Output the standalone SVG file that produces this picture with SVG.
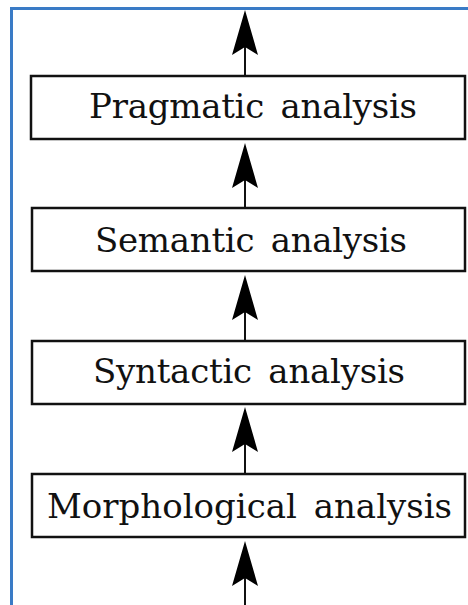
<svg xmlns="http://www.w3.org/2000/svg" width="468" height="605" viewBox="0 0 468 605">
  <style>
    .frame { fill: none; stroke: #3a7bc6; stroke-width: 3; }
    .box { fill: #ffffff; stroke: #111111; stroke-width: 2.5; }
    .label { font-family: "DejaVu Serif", "Liberation Serif", serif; font-size: 34px; fill: #111111; text-anchor: middle; word-spacing: 6px; }
    .shaft { stroke: #111111; stroke-width: 2; fill: none; }
    .head { fill: #000000; }
  </style>
  <defs>
    <!-- barbed arrowhead, tip at origin pointing up -->
    <path id="arrowhead" class="head" d="M0,0 L13,45 L0,37 L-13,45 Z"/>
  </defs>

  <rect class="frame" x="11.5" y="8.5" width="470" height="610"/>

  <g id="connectors">
    <line class="shaft" x1="245" y1="40" x2="245" y2="76"/>
    <use href="#arrowhead" x="245" y="10"/>
    <line class="shaft" x1="245" y1="173" x2="245" y2="208"/>
    <use href="#arrowhead" x="245" y="143"/>
    <line class="shaft" x1="245" y1="305" x2="245" y2="341"/>
    <use href="#arrowhead" x="245" y="275"/>
    <line class="shaft" x1="245" y1="437" x2="245" y2="474"/>
    <use href="#arrowhead" x="245" y="407"/>
    <line class="shaft" x1="245" y1="571" x2="245" y2="606"/>
    <use href="#arrowhead" x="245" y="541"/>
  </g>

  <g id="pragmatic">
    <rect class="box" x="31" y="76" width="434" height="63"/>
    <text class="label" x="253" y="118" textLength="328">Pragmatic analysis</text>
  </g>
  <g id="semantic">
    <rect class="box" x="32" y="208" width="433" height="63"/>
    <text class="label" x="251" y="252" textLength="312">Semantic analysis</text>
  </g>
  <g id="syntactic">
    <rect class="box" x="32" y="341" width="433" height="63"/>
    <text class="label" x="249" y="383" textLength="312">Syntactic analysis</text>
  </g>
  <g id="morphological">
    <rect class="box" x="32" y="474" width="433" height="63"/>
    <text class="label" x="249.5" y="518" textLength="405">Morphological analysis</text>
  </g>
</svg>
